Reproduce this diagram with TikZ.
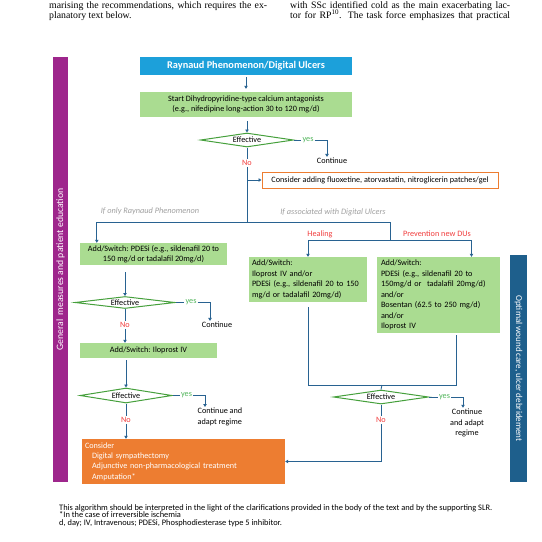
\documentclass[tikz,border=0pt]{standalone}
\usepackage{fontspec}
\setmainfont{Carlito}
\newfontfamily\pagefont{Liberation Serif}
\usetikzlibrary{arrows.meta,shapes.geometric}
\definecolor{rpblue}{RGB}{28,160,218}
\definecolor{rpgreen}{RGB}{170,220,145}
\definecolor{rpdiam}{RGB}{70,160,60}
\definecolor{rpline}{RGB}{40,98,145}
\definecolor{rporange}{RGB}{237,125,49}
\definecolor{rppurple}{RGB}{158,38,140}
\definecolor{rpteal}{RGB}{30,95,140}
\definecolor{rpyes}{RGB}{80,180,90}
\definecolor{rpno}{RGB}{240,60,60}
\tikzset{
  txt/.style={font=\fontsize{8.2}{10.5}\selectfont, inner sep=1pt},
  gbox/.style={txt, fill=rpgreen, inner sep=0pt},
  effect/.style={txt, shape=diamond, draw=rpdiam, line width=1pt, fill=white, inner sep=0pt, aspect=6},
  yeslbl/.style={txt, text=rpyes},
  nolbl/.style={txt, text=rpno},
  branchlbl/.style={txt, text=gray!75, font=\fontsize{8.3}{9}\selectfont\itshape},
  bar/.style={text=white, inner sep=0pt},
  pagetxt/.style={font=\pagefont\fontsize{9.8}{10.5}\selectfont, inner sep=0pt},
  conn/.style={draw=rpline, line width=0.9pt},
  arr/.style={conn, -{Triangle[length=3pt,width=3.4pt]}}
}
\begin{document}
\begin{tikzpicture}[x=1pt,y=-1pt]
\useasboundingbox (0,0) rectangle (542,542);
% page text above the figure
\node[pagetxt, anchor=base west] (pl1) at (49,8) {\makebox[218pt][s]{marising the recommendations, which requires the ex-}};
\node[pagetxt, anchor=base west] (pl2) at (49,18.5) {planatory text below.};
\node[pagetxt, anchor=base west] (pr1) at (290,8) {\makebox[220pt][s]{with SSc identified cold as the main exacerbating lac-}};
\node[pagetxt, anchor=base west] (pr2) at (290,18.5) {\makebox[220pt][s]{tor for RP\textsuperscript{\scriptsize 10}. The task force emphasizes that practical}};

% side bars
\node[bar, fill=rppurple, font=\fontsize{9.7}{11}\selectfont, minimum width=425, minimum height=15, rotate=90] (gen) at (60.5,269.5) {General\ \ measures and patient education};
\node[bar, fill=rpteal, font=\fontsize{9}{11}\selectfont, minimum width=227, minimum height=17, rotate=-90] (wound) at (518.5,368.5) {Optimal wound care, ulcer debridement};

% main column
\node[txt, fill=rpblue, text=white, font=\fontsize{10.3}{12}\selectfont\bfseries, minimum width=212, minimum height=18] (title) at (246,66) {Raynaud Phenomenon/Digital Ulcers};
\node[gbox, align=center, minimum width=212, minimum height=25] (start) at (246,104.5) {Start Dihydropyridine-type calcium antagonists\\(e.g., nifedipine long-action 30 to 120 mg/d)};
\node[effect, minimum width=93, minimum height=14] (d1) at (247,140) {Effective};
\node[yeslbl] (y1) at (308,140) {yes};
\node[txt] (c1) at (332,161) {Continue};
\node[nolbl] (n1) at (247,163) {No};
\node[txt, draw=rporange, line width=1pt, minimum width=236, minimum height=16] (cons) at (380,180) {Consider adding fluoxetine, atorvastatin, nitroglicerin patches/gel};
\coordinate (br) at (247,222);
\coordinate (du) at (390,240);
\node[branchlbl] (only) at (150,211) {If only Raynaud Phenomenon};
\node[branchlbl] (assoc) at (333,212) {If associated with Digital Ulcers};
\node[nolbl] (heal) at (320,234) {Healing};
\node[nolbl] (prevl) at (437,234) {Prevention new DUs};

% left branch
\node[gbox, align=center, minimum width=147, minimum height=22] (pde1) at (153.5,254) {Add/Switch: PDESi (e.g., sildenafil 20 to\\150 mg/d or tadalafil 20mg/d)};
\node[effect, minimum width=100, minimum height=12] (d2) at (125,302.5) {Effective};
\node[yeslbl] (y2) at (191,302.5) {yes};
\node[txt] (c2) at (217,325) {Continue};
\node[nolbl] (n2) at (125,325) {No};
\node[gbox, minimum width=137, minimum height=15] (ilo) at (148.5,350.5) {Add/Switch: Iloprost IV};
\node[effect, minimum width=92, minimum height=15] (d3) at (126,395.5) {Effective};
\node[yeslbl] (y3) at (186.5,395.5) {yes};
\node[txt, align=left] (c3) at (220,417) {Continue and\\adapt regime};
\node[nolbl] (n3) at (126,420) {No};
\node[txt, fill=rporange, text=white, align=left, text width=197, inner sep=3pt, minimum height=45, font=\fontsize{8.2}{10.3}\selectfont] (cons2) at (183.5,461.5) {Consider\\\hspace*{7pt}Digital sympathectomy\\\hspace*{7pt}Adjunctive non-pharmacological treatment\\\hspace*{7pt}Amputation*};

% right branch
\node[gbox, align=left, text width=112, inner xsep=3pt, minimum height=45] (hea) at (308,279.5) {Add/Switch:\\Iloprost IV and/or\\PDESi (e.g., sildenafil 20 to 150\\mg/d or tadalafil 20mg/d)};
\node[gbox, align=left, text width=115, inner xsep=4pt, minimum height=76] (prev) at (438.5,295) {Add/Switch:\\PDESi (e.g., sildenafil 20 to\\150mg/d or\ \ tadalafil 20mg/d)\\and/or\\Bosentan (62.5 to 250 mg/d)\\and/or\\Iloprost IV};
\coordinate (jn) at (382,385);
\node[effect, minimum width=95, minimum height=14] (d4) at (381,397) {Effective};
\node[yeslbl] (y4) at (444.5,397) {yes};
\node[txt, align=center] (c4) at (467,423) {Continue\\and adapt\\regime};
\node[nolbl] (n4) at (381,420) {No};

% notes
\node[txt, anchor=north west, align=left, inner sep=0pt, font=\fontsize{8.4}{7.8}\selectfont] (notes) at (59,504) {This algorithm should be interpreted in the light of the clarifications provided in the body of the text and by the supporting SLR.\\*In the case of irreversible ischemia\\d, day; IV, Intravenous; PDESi, Phosphodiesterase type 5 inhibitor.};

% connectors
\draw[arr, shorten <=2pt, shorten >=3pt] (title) -- (start);
\draw[arr, shorten <=4pt] (d1.north |- start.south) -- (d1.north);
\draw[conn] (d1.east) -- (y1.west);
\draw[arr] (y1.east) -| ([xshift=-5]c1.north);
\draw[conn] (d1.south) -- (n1.north);
\draw[conn] (n1.south) -- (br);
\draw[arr] (n1.south |- cons.west) -- (cons.west);
\draw[arr] (br) -| ([xshift=17]pde1.north west);
\draw[conn] (br) -| (du);
\draw[arr] (du) -| (hea.north);
\draw[arr] (du) -| ([xshift=33]prev.north);

\draw[arr, shorten <=7pt] (d2.north |- pde1.south) -- (d2.north);
\draw[conn] (d2.east) -- (y2.west);
\draw[arr] (y2.east) -| ([xshift=-7]c2.north);
\draw[conn] (d2.south) -- (n2.north);
\draw[arr] (n2.south) -- (n2.south |- ilo.north);
\draw[arr, shorten <=2pt] (d3.north |- ilo.south) -- (d3.north);
\draw[conn] (d3.east) -- (y3.west);
\draw[arr] (y3.east) -| ([xshift=-15]c3.north);
\draw[conn] (d3.south) -- (n3.north);
\draw[arr] (n3.south) -- (n3.south |- cons2.north);

\draw[conn, shorten <=5pt] (hea.south) |- (jn);
\draw[conn, shorten <=2pt] ([xshift=17.5]prev.south) |- (jn);
\draw[conn] (jn) -- (d4.north);
\draw[conn] (d4.east) -- (y4.west);
\draw[arr] (y4.east) -| ([xshift=-4]c4.north);
\draw[conn] (d4.south) -- (n4.north);
\draw[arr] (n4.south) |- (cons2.east);
\end{tikzpicture}
\end{document}
